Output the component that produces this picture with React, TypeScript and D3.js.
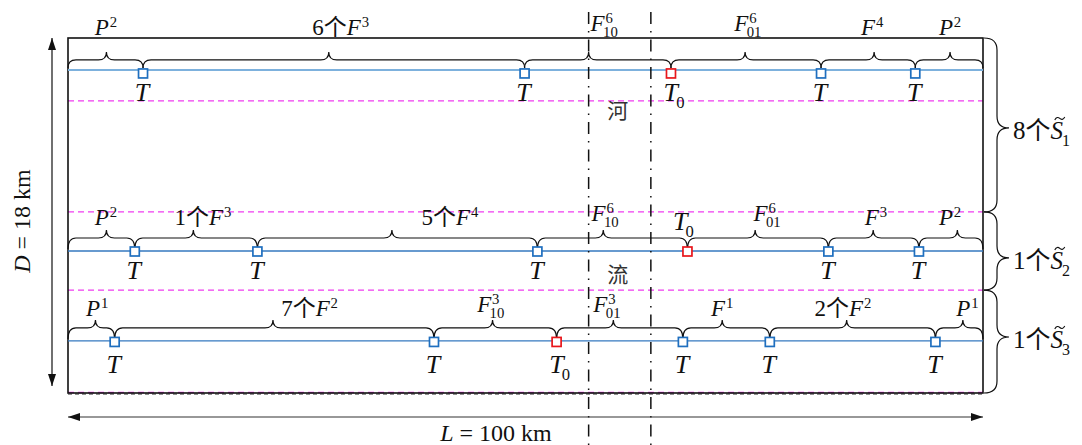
import React, { useRef, useEffect } from 'react';
import * as d3 from 'd3';

const W = 1082;
const H = 445;
const FONT = "'Liberation Serif', 'Times New Roman', 'Noto Sans CJK SC', serif";

// all lengths in km (L = 100, D = 18)
const riverBanks = [56.9, 63.7];
const layerLines = [3.19, 8.82, 12.78, 18];
const wellDepths = [1.62, 10.8, 15.36];

type Lab = { pre?: string; base: string; sup?: string; sub?: string; tilde?: boolean };
type Seg = { from: number; to: number; tip: number; at: number; lab: Lab };
type Trap = { km: number; kind: 'T' | 'T0'; above?: boolean };

const trapsRow1: Trap[] = [
  { km: 8.2, kind: 'T' }, { km: 49.9, kind: 'T' }, { km: 65.9, kind: 'T0' },
  { km: 82.3, kind: 'T' }, { km: 92.6, kind: 'T' },
];
const trapsRow2: Trap[] = [
  { km: 7.3, kind: 'T' }, { km: 20.7, kind: 'T' }, { km: 51.3, kind: 'T' },
  { km: 67.7, kind: 'T0', above: true }, { km: 83.1, kind: 'T' }, { km: 93.0, kind: 'T' },
];
const trapsRow3: Trap[] = [
  { km: 5.1, kind: 'T' }, { km: 40.0, kind: 'T' }, { km: 53.4, kind: 'T0' },
  { km: 67.2, kind: 'T' }, { km: 76.7, kind: 'T' }, { km: 94.8, kind: 'T' },
];

const segsRow1: Seg[] = [
  { from: 0, to: 8.2, tip: 4.2, at: 4.15, lab: { base: 'P', sup: '2' } },
  { from: 8.2, to: 49.9, tip: 28.5, at: 29.8, lab: { pre: '6个', base: 'F', sup: '3' } },
  { from: 49.9, to: 65.9, tip: 56.9, at: 58.6, lab: { base: 'F', sup: '6', sub: '10' } },
  { from: 65.9, to: 82.3, tip: 74.0, at: 74.3, lab: { base: 'F', sup: '6', sub: '01' } },
  { from: 82.3, to: 92.6, tip: 88.1, at: 87.9, lab: { base: 'F', sup: '4' } },
  { from: 92.6, to: 100, tip: 96.4, at: 96.4, lab: { base: 'P', sup: '2' } },
];
const segsRow2: Seg[] = [
  { from: 0, to: 7.3, tip: 4.2, at: 4.15, lab: { base: 'P', sup: '2' } },
  { from: 7.3, to: 20.7, tip: 13.7, at: 14.75, lab: { pre: '1个', base: 'F', sup: '3' } },
  { from: 20.7, to: 51.3, tip: 35.4, at: 41.75, lab: { pre: '5个', base: 'F', sup: '4' } },
  { from: 51.3, to: 67.7, tip: 58.5, at: 58.7, lab: { base: 'F', sup: '6', sub: '10' } },
  { from: 67.7, to: 83.1, tip: 75.1, at: 76.4, lab: { base: 'F', sup: '6', sub: '01' } },
  { from: 83.1, to: 93.0, tip: 88.0, at: 88.3, lab: { base: 'F', sup: '3' } },
  { from: 93.0, to: 100, tip: 97.2, at: 96.4, lab: { base: 'P', sup: '2' } },
];
const segsRow3: Seg[] = [
  { from: 0, to: 5.1, tip: 3.0, at: 3.2, lab: { base: 'P', sup: '1' } },
  { from: 5.1, to: 40.0, tip: 22.4, at: 26.4, lab: { pre: '7个', base: 'F', sup: '2' } },
  { from: 40.0, to: 53.4, tip: 46.4, at: 46.2, lab: { base: 'F', sup: '3', sub: '10' } },
  { from: 53.4, to: 67.2, tip: 59.6, at: 58.9, lab: { base: 'F', sup: '3', sub: '01' } },
  { from: 67.2, to: 76.7, tip: 71.5, at: 71.5, lab: { base: 'F', sup: '1' } },
  { from: 76.7, to: 94.8, tip: 85.1, at: 84.7, lab: { pre: '2个', base: 'F', sup: '2' } },
  { from: 94.8, to: 100, tip: 97.8, at: 98.3, lab: { base: 'P', sup: '1' } },
];

const groups = [
  { from: 0, to: 8.82, tip: 4.56, lab: { pre: '8个', base: 'S', sub: '1', tilde: true } },
  { from: 8.82, to: 12.78, tip: 11.15, lab: { pre: '1个', base: 'S', sub: '2', tilde: true } },
  { from: 12.78, to: 18, tip: 15.16, lab: { pre: '1个', base: 'S', sub: '3', tilde: true } },
];

const rows = [
  { traps: trapsRow1, segs: segsRow1 },
  { traps: trapsRow2, segs: segsRow2 },
  { traps: trapsRow3, segs: segsRow3 },
];

// drawing layout per row
const rowLayout = [
  { gap: 10, labelY: 35, tY: 101, boxDy: 3.5, color: '#7db1dd', width: 2 },
  { gap: 13, labelY: 225, tY: 279, boxDy: 0.5, color: '#3479bf', width: 1.3 },
  { gap: 13, labelY: 316, tY: 373, boxDy: 1, color: '#3479bf', width: 1.3 },
];

function mathLabel(parent: any, x: number, baseline: number, lab: Lab, size: number, align = 'middle') {
  const g = parent.append('g');
  const main = g.append('text').attr('y', baseline).attr('font-size', size);
  let preW = 0;
  if (lab.pre) {
    const p = main.append('tspan').text(lab.pre);
    preW = (p.node() as SVGTSpanElement).getComputedTextLength();
  }
  main.append('tspan').attr('font-style', 'italic').text(lab.base);
  const w = (main.node() as SVGTextElement).getComputedTextLength();
  const small = size * 0.64;
  let extra = 0;
  if (lab.tilde) {
    // little wave over the letter
    const cx = preW + (w - preW) / 2 + size * 0.12;
    const ty = baseline - size * 0.82;
    g.append('path')
      .attr('d', `M${cx - 5},${ty + 1.5}C${cx - 3.5},${ty - 1.5} ${cx - 1.5},${ty - 1.5} ${cx},${ty}` +
        `S${cx + 3.5},${ty + 1.5} ${cx + 5},${ty - 1.5}`)
      .attr('fill', 'none').attr('stroke', '#111').attr('stroke-width', 1.1);
  }
  if (lab.sup) {
    const t = g.append('text').attr('x', w + size * 0.04).attr('y', baseline - size * 0.34)
      .attr('font-size', small).text(lab.sup);
    extra = Math.max(extra, size * 0.04 + (t.node() as SVGTextElement).getComputedTextLength());
  }
  if (lab.sub) {
    const sx = lab.tilde ? w - size * 0.04 : w - size * 0.07;
    const t = g.append('text').attr('x', sx).attr('y', baseline + size * 0.27)
      .attr('font-size', small).text(lab.sub);
    extra = Math.max(extra, sx - w + (t.node() as SVGTextElement).getComputedTextLength());
  }
  const total = w + extra;
  const left = align === 'middle' ? x - total / 2 : x;
  g.attr('transform', `translate(${left},0)`);
}

function hBrace(x0: number, x1: number, y: number, tx: number, drop: number, r = 8, h = 8) {
  return `M${x0},${y + drop}Q${x0},${y} ${x0 + r},${y}L${tx - r},${y}Q${tx},${y} ${tx},${y - h}` +
    `Q${tx},${y} ${tx + r},${y}L${x1 - r},${y}Q${x1},${y} ${x1},${y + drop}`;
}

function vBrace(y0: number, y1: number, x0: number, xl: number, xt: number, ty: number, r = 12) {
  return `M${x0},${y0}Q${xl},${y0} ${xl},${y0 + r}L${xl},${ty - r}Q${xl},${ty} ${xt},${ty}` +
    `Q${xl},${ty} ${xl},${ty + r}L${xl},${y1 - r}Q${xl},${y1} ${x0},${y1}`;
}

const App = () => {
  const svgRef = useRef<SVGSVGElement>(null);

  useEffect(() => {
    const svg = d3.select(svgRef.current);
    svg.selectAll('*').remove();
    svg.attr('font-family', FONT).attr('fill', '#111');

    const x = d3.scaleLinear().domain([0, 100]).range([68, 983]);
    const y = d3.scaleLinear().domain([0, 18]).range([38, 393]);

    const defs = svg.append('defs');
    defs.append('marker')
      .attr('id', 'arr').attr('viewBox', '0 0 12 8').attr('refX', 12).attr('refY', 4)
      .attr('markerWidth', 12).attr('markerHeight', 8).attr('markerUnits', 'userSpaceOnUse')
      .attr('orient', 'auto-start-reverse')
      .append('path').attr('d', 'M0,0L12,4L0,8Z').attr('fill', '#111');

    // layer separators
    svg.append('g').selectAll('line').data(layerLines).enter().append('line')
      .attr('x1', x(0)).attr('x2', x(100))
      .attr('y1', d => y(d) - (d === 18 ? 0.5 : 0)).attr('y2', d => y(d) - (d === 18 ? 0.5 : 0))
      .attr('stroke', '#f03cf0').attr('stroke-width', 1.3).attr('stroke-dasharray', '6,4');

    // box
    svg.append('rect').attr('x', x(0)).attr('y', y(0))
      .attr('width', x(100) - x(0)).attr('height', y(18) - y(0))
      .attr('fill', 'none').attr('stroke', '#111').attr('stroke-width', 1.6);
    svg.append('line').attr('x1', x(0)).attr('x2', x(100)).attr('y1', y(18) + 1).attr('y2', y(18) + 1)
      .attr('stroke', '#222').attr('stroke-width', 1).attr('stroke-dasharray', '4,3');

    // well lines
    svg.append('g').selectAll('line').data(wellDepths).enter().append('line')
      .attr('x1', x(0)).attr('x2', x(100)).attr('y1', d => y(d)).attr('y2', d => y(d))
      .attr('stroke', (_, i) => rowLayout[i].color).attr('stroke-width', (_, i) => rowLayout[i].width);

    // river banks
    svg.append('g').selectAll('line').data(riverBanks).enter().append('line')
      .attr('x1', d => x(d)).attr('x2', d => x(d)).attr('y1', 12).attr('y2', H)
      .attr('stroke', '#111').attr('stroke-width', 1.5).attr('stroke-dasharray', '12,7,1.5,7');

    const riverMid = x(d3.mean(riverBanks) as number);
    svg.append('text').attr('x', riverMid - 2).attr('y', 118).attr('font-size', 21)
      .attr('text-anchor', 'middle').attr('fill', '#333').text('河');
    svg.append('text').attr('x', riverMid - 2).attr('y', 282).attr('font-size', 21)
      .attr('text-anchor', 'middle').attr('fill', '#333').text('流');

    rows.forEach((row, i) => {
      const lay = rowLayout[i];
      const ly = y(wellDepths[i]);
      const by = ly - lay.gap;
      const g = svg.append('g');
      g.selectAll('path').data(row.segs).enter().append('path')
        .attr('d', d => hBrace(x(d.from), x(d.to), by, x(d.tip), lay.gap - 2))
        .attr('fill', 'none').attr('stroke', '#111').attr('stroke-width', 1.2);
      row.segs.forEach(s => {
        const stacked = !!s.lab.sub;
        mathLabel(g, x(s.at), lay.labelY - (stacked ? 4 : 0), s.lab, 23);
      });
      const side = 9;
      g.selectAll('rect').data(row.traps).enter().append('rect')
        .attr('x', d => x(d.km) - side / 2).attr('y', ly + lay.boxDy - side / 2)
        .attr('width', side).attr('height', side).attr('fill', '#fff')
        .attr('stroke', d => (d.kind === 'T0' ? '#e8161b' : '#1f6fbf')).attr('stroke-width', 1.7);
      row.traps.forEach(t => {
        const lab: Lab = t.kind === 'T0' ? { base: 'T', sub: '0' } : { base: 'T' };
        const base = t.above ? by - 8 : lay.tY;
        const dx = t.above ? -4 : t.kind === 'T0' ? 3 : -1;
        mathLabel(g, x(t.km) + dx, base, lab, 26);
      });
    });

    // grouping braces on the right
    const rg = svg.append('g');
    groups.forEach(gr => {
      rg.append('path')
        .attr('d', vBrace(y(gr.from), y(gr.to), x(100) + 1, 997, 1009, y(gr.tip)))
        .attr('fill', 'none').attr('stroke', '#111').attr('stroke-width', 1.2);
      mathLabel(rg, 1013, y(gr.tip) + 11, gr.lab, 25, 'start');
    });

    // dimension arrows
    svg.append('line').attr('x1', 52).attr('x2', 52).attr('y1', y(0)).attr('y2', 386)
      .attr('stroke', '#111').attr('stroke-width', 1.2)
      .attr('marker-start', 'url(#arr)').attr('marker-end', 'url(#arr)');
    svg.append('line').attr('x1', x(0)).attr('x2', x(100)).attr('y1', 417).attr('y2', 417)
      .attr('stroke', '#333').attr('stroke-width', 1.2)
      .attr('marker-start', 'url(#arr)').attr('marker-end', 'url(#arr)');

    const dl = svg.append('text').attr('font-size', 24).attr('text-anchor', 'middle')
      .attr('transform', 'translate(30,221) rotate(-90)');
    dl.append('tspan').attr('font-style', 'italic').text('D');
    dl.append('tspan').text(' = 18 km');

    const ll = svg.append('text').attr('font-size', 24).attr('text-anchor', 'middle')
      .attr('x', 496).attr('y', 441);
    ll.append('tspan').attr('font-style', 'italic').text('L');
    ll.append('tspan').text(' = 100 km');
  }, []);

  return (
    <svg ref={svgRef} width={W} height={H}
      style={{ position: 'absolute', left: 0, top: 0, background: '#fff' }} />
  );
};

export default App;
